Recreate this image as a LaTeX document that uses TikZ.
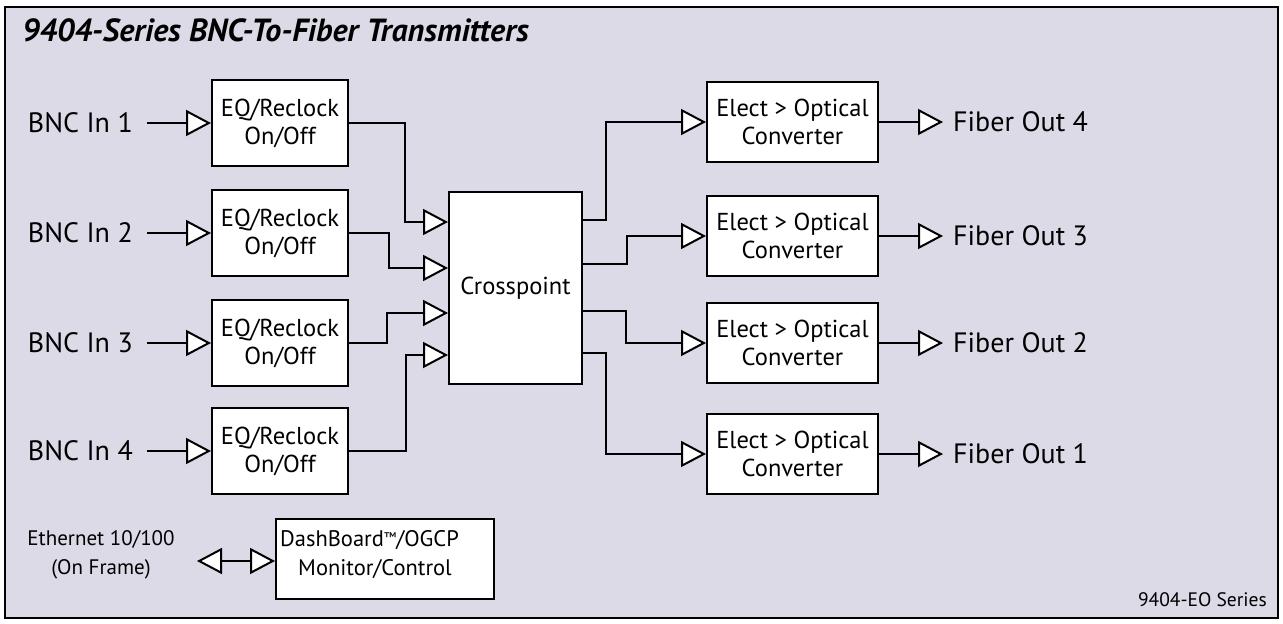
\documentclass[tikz,border=0pt]{standalone}
\usepackage{fontspec}
\setmainfont{PT Sans}
\usetikzlibrary{arrows.meta,calc}
\definecolor{bgl}{RGB}{220,218,230}
\begin{document}
\begin{tikzpicture}[x=1pt,y=-1pt,
  lw/.style={line width=2pt},
  blk/.style={draw,lw,fill=white,inner sep=0pt,align=center,font=\fontsize{24.5}{28}\selectfont},
  tip/.tip={Triangle[length=25pt,width=26pt,fill=white,line width=2pt]},
  arr/.style={lw,-tip},
  darr/.style={lw,tip-tip},
  lbl/.style={inner ysep=2pt,inner xsep=10pt,font=\fontsize{28}{32}\selectfont},
  sm/.style={inner sep=0pt,font=\fontsize{21}{29}\selectfont}]
\useasboundingbox (0,0) rectangle (1283,624);
\draw[lw,fill=bgl] (5,7) rectangle (1278,618);
\node[anchor=west,inner sep=0pt,font=\fontsize{32}{36}\selectfont\bfseries\itshape] (title) at (22,30) {9404-Series BNC-To-Fiber Transmitters};
% EQ blocks
\foreach \i/\y in {1/123,2/233,3/343,4/451}{
  \node[blk,minimum width=136,minimum height=86] (eq\i) at (280,\y) {EQ/Reclock\\On/Off};
  \node[lbl,anchor=east,inner xsep=14pt] (in\i) at (147,\y) {BNC In \i};
  \draw[arr] (in\i.east) -- (eq\i.west);
}
\node[blk,minimum width=133,minimum height=192] (cp) at (515.5,288) {Crosspoint};
% converters
\foreach \i/\y/\n in {1/122/4,2/236/3,3/343/2,4/454/1}{
  \node[blk,minimum width=171,minimum height=80] (cv\i) at (792.5,\y) {Elect > Optical\\Converter};
  \node[lbl,anchor=west] (out\i) at (943,\y) {Fiber Out \n};
  \draw[arr] (cv\i.east) -- (out\i.west);
}
% jog points
\coordinate (j1) at (405,170);
\coordinate (j2) at (389,250);
\coordinate (j3) at (387,330);
\coordinate (j4) at (406,400);
\draw[arr] (eq1.east) -| (j1) |- ([yshift=66pt]cp.west);
\draw[arr] (eq2.east) -| (j2) |- ([yshift=20pt]cp.west);
\draw[arr] (eq3.east) -| (j3) |- ([yshift=-25pt]cp.west);
\draw[arr] (eq4.east) -| (j4) |- ([yshift=-67pt]cp.west);
\coordinate (k1) at (606,170);
\coordinate (k2) at (627,250);
\coordinate (k3) at (626,325);
\coordinate (k4) at (606,400);
\draw[arr] ([yshift=68pt]cp.east) -| (k1) |- (cv1.west);
\draw[arr] ([yshift=24pt]cp.east) -| (k2) |- (cv2.west);
\draw[arr] ([yshift=-23pt]cp.east) -| (k3) |- (cv3.west);
\draw[arr] ([yshift=-65pt]cp.east) -| (k4) |- (cv4.west);
% bottom
\node[sm,align=center] (eth) at (101,555) {Ethernet 10/100\\(On Frame)};
\node[draw,lw,fill=white,minimum width=218,minimum height=80,inner sep=0pt] (dash) at (385,559) {};
\node[sm,align=left,anchor=west,font=\fontsize{22.5}{29}\selectfont] (dashtxt) at (280,555) {DashBoard\raisebox{4pt}{\fontsize{14}{14}\selectfont ™}/OGCP\\\hspace*{18pt}Monitor/Control};
\coordinate (ethend) at (197,561);
\draw[darr] (ethend) -- (dash.west |- ethend);
\node[anchor=east,inner sep=0pt,font=\fontsize{19.5}{22}\selectfont] (series) at (1267,600) {9404-EO Series};
\end{tikzpicture}
\end{document}
